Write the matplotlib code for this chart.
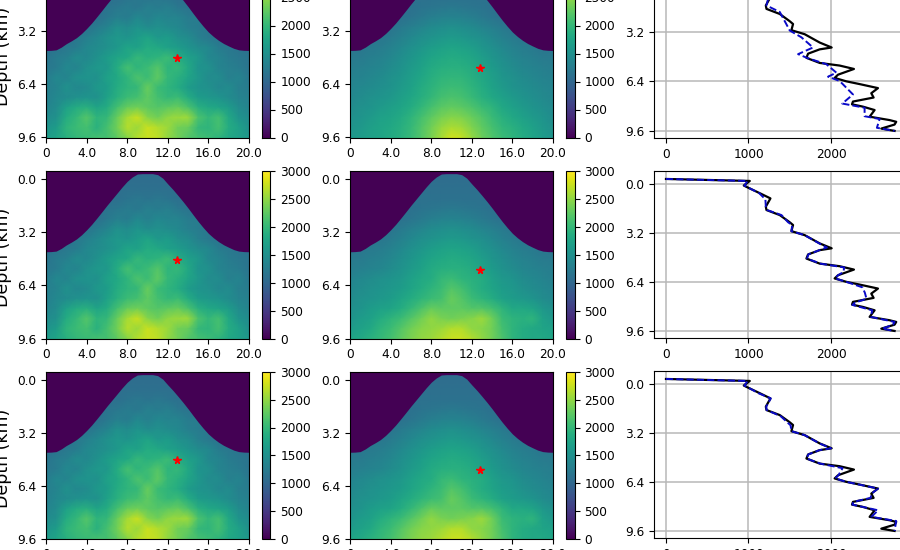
import matplotlib
matplotlib.use('Agg')
import numpy as np
import matplotlib.pyplot as plt

# grid of the velocity maps
x_km = list(range(21))
depth_km = [-0.5, 0.6, 1.2, 1.8, 2.4, 3.0, 3.6, 4.2, 4.8, 5.4, 6.0, 6.6, 7.2, 7.8, 8.4, 9.0, 9.6]

# velocities
left_vel = [
    [1050]*21,
    [1100]*21,
    [1100]*7 + [1100, 1150, 1200, 1150, 1200, 1150, 1100] + [1100]*7,
    [1100]*6 + [1150, 1200, 1250, 1200, 1300, 1250, 1300, 1200, 1150] + [1100]*6,
    [1100]*5 + [1100, 1200, 1300, 1250, 1400, 1300, 1400, 1350, 1350, 1250, 1250] + [1100]*5,
    [1100, 1100, 1100, 1100, 1150, 1250, 1350, 1500, 1450, 1550, 1450, 1500, 1450, 1400, 1300, 1250, 1200, 1150, 1100, 1100, 1100],
    [1050, 1100, 1100, 1200, 1300, 1400, 1500, 1600, 1550, 1650, 1750, 1600, 1650, 1500, 1450, 1300, 1200, 1150, 1100, 1100, 1050],
    [1100, 1150, 1200, 1250, 1400, 1450, 1500, 1600, 1750, 1700, 1850, 1800, 1700, 1650, 1550, 1450, 1400, 1250, 1200, 1150, 1100],
    [1150, 1250, 1300, 1450, 1400, 1500, 1650, 1750, 1800, 2000, 1900, 1950, 2050, 1850, 1700, 1600, 1400, 1350, 1250, 1200, 1150],
    [1200, 1250, 1400, 1350, 1500, 1600, 1600, 1850, 2100, 1950, 2050, 2200, 1950, 2000, 1800, 1550, 1500, 1350, 1300, 1250, 1150],
    [1250, 1400, 1350, 1500, 1550, 1500, 1700, 1800, 1950, 2150, 2050, 2250, 2000, 1900, 1750, 1600, 1450, 1450, 1300, 1350, 1200],
    [1300, 1350, 1500, 1400, 1450, 1600, 1650, 1850, 1950, 2000, 2300, 2050, 1950, 1850, 1650, 1550, 1500, 1400, 1450, 1300, 1250],
    [1300, 1400, 1450, 1500, 1550, 1500, 1700, 1900, 2050, 2100, 2250, 2100, 2000, 2050, 1850, 1650, 1600, 1550, 1450, 1350, 1300],
    [1350, 1450, 1700, 1850, 1900, 1750, 1850, 2100, 2300, 2350, 2250, 2200, 2250, 2300, 2150, 1900, 1800, 1750, 1650, 1450, 1350],
    [1450, 1500, 1850, 2000, 2200, 1950, 2000, 2300, 2600, 2750, 2450, 2350, 2500, 2550, 2550, 2150, 2000, 2100, 1800, 1550, 1450],
    [1550, 1650, 1950, 2050, 2100, 1900, 2100, 2350, 2650, 2550, 2750, 2650, 2550, 2350, 2300, 2000, 1950, 2100, 1850, 1700, 1500],
    [1650, 1750, 1900, 2000, 2050, 2100, 2100, 2250, 2450, 2650, 2750, 2700, 2500, 2350, 2200, 2100, 2050, 1950, 1800, 1700, 1600],
]

# velocities, first row
mid_vel = [
    [1050]*21,
    [1100]*21,
    [1120]*21,
    [1120]*7 + [1150, 1180, 1200, 1230, 1200, 1180, 1150] + [1120]*7,
    [1120]*6 + [1170, 1220, 1280, 1320, 1340, 1320, 1280, 1220, 1170] + [1120]*6,
    [1100, 1100, 1110, 1130, 1170, 1230, 1300, 1370, 1430, 1470, 1500, 1470, 1430, 1370, 1300, 1230, 1170, 1130, 1110, 1100, 1100],
    [1120, 1130, 1150, 1190, 1240, 1310, 1400, 1480, 1540, 1590, 1620, 1600, 1540, 1480, 1400, 1310, 1240, 1190, 1150, 1130, 1120],
    [1170, 1190, 1220, 1260, 1330, 1400, 1490, 1580, 1660, 1720, 1750, 1730, 1670, 1580, 1490, 1400, 1330, 1260, 1220, 1180, 1170],
    [1220, 1240, 1280, 1330, 1390, 1470, 1560, 1660, 1750, 1800, 1830, 1810, 1760, 1670, 1570, 1470, 1390, 1330, 1280, 1240, 1220],
    [1270, 1290, 1340, 1380, 1450, 1530, 1620, 1720, 1820, 1880, 1900, 1890, 1830, 1730, 1630, 1530, 1450, 1380, 1340, 1290, 1270],
    [1320, 1340, 1390, 1430, 1500, 1580, 1670, 1780, 1880, 1950, 1980, 1960, 1890, 1790, 1680, 1580, 1500, 1430, 1390, 1340, 1310],
    [1360, 1400, 1440, 1480, 1540, 1620, 1720, 1830, 1930, 2020, 2060, 2030, 1950, 1840, 1730, 1620, 1540, 1480, 1440, 1390, 1350],
    [1400, 1450, 1500, 1550, 1600, 1680, 1780, 1880, 1990, 2100, 2150, 2120, 2020, 1900, 1800, 1700, 1620, 1550, 1480, 1420, 1380],
    [1450, 1500, 1550, 1620, 1680, 1750, 1850, 1980, 2120, 2230, 2280, 2240, 2160, 2050, 1950, 1800, 1700, 1620, 1550, 1480, 1420],
    [1500, 1550, 1620, 1700, 1750, 1820, 1950, 2100, 2250, 2380, 2450, 2420, 2310, 2180, 2030, 1900, 1800, 1700, 1620, 1550, 1450],
    [1550, 1600, 1680, 1750, 1800, 1880, 2000, 2170, 2350, 2520, 2620, 2570, 2420, 2270, 2110, 1970, 1900, 1800, 1700, 1600, 1500],
    [1600, 1650, 1700, 1750, 1820, 1900, 2020, 2180, 2380, 2600, 2780, 2720, 2520, 2330, 2170, 2050, 1950, 1850, 1750, 1650, 1550],
]

# middle column, lower rows: same top, broader bottom
mid_vel_low = mid_vel[:10] + [
    [1350, 1400, 1450, 1500, 1550, 1600, 1700, 1800, 1850, 2000, 2050, 1950, 1900, 1850, 1700, 1600, 1550, 1450, 1400, 1350, 1300],
    [1400, 1450, 1500, 1550, 1600, 1650, 1750, 1850, 1950, 2050, 2200, 2100, 1950, 1850, 1750, 1650, 1600, 1500, 1450, 1400, 1350],
    [1450, 1500, 1550, 1600, 1650, 1750, 1850, 1950, 2050, 2100, 2300, 2200, 2050, 1950, 1850, 1700, 1650, 1600, 1550, 1450, 1400],
    [1500, 1550, 1650, 1700, 1750, 1850, 2000, 2150, 2300, 2250, 2250, 2250, 2200, 2200, 2100, 1950, 1800, 1800, 1750, 1600, 1500],
    [1550, 1650, 1700, 1850, 1950, 2050, 2200, 2350, 2500, 2400, 2350, 2400, 2450, 2550, 2350, 2050, 1950, 1900, 1950, 1700, 1600],
    [1650, 1700, 1800, 1950, 2050, 2200, 2350, 2450, 2500, 2550, 2650, 2650, 2500, 2450, 2350, 2100, 1950, 1850, 1800, 1750, 1700],
    [1750, 1800, 1900, 2000, 2100, 2250, 2400, 2500, 2550, 2650, 2750, 2750, 2650, 2500, 2350, 2150, 1950, 1850, 1800, 1800, 1750],
]

# top of the hill, one value per 0.5 km
surface_x = [i * 0.5 for i in range(41)]
surface_depth = [4.38, 4.37, 4.34, 4.18, 3.97, 3.8, 3.61, 3.36, 3.06, 2.73, 2.36, 1.98, 1.59, 1.22, 0.85, 0.48,
                 0.14, -0.12, -0.3, -0.32, -0.32, -0.32, -0.26, -0.05, 0.3, 0.63, 0.99, 1.36, 1.75, 2.16, 2.56,
                 2.93, 3.27, 3.54, 3.77, 3.96, 4.11, 4.25, 4.34, 4.37, 4.38]

# star positions (x, depth), one per row
star_left = [(12.9, 4.85), (12.9, 4.85), (12.9, 4.85)]
star_mid = [(12.8, 5.45), (12.8, 5.45), (12.8, 5.45)]

# profiles
true_depth = [-0.33, -0.2, 0.1, 0.24, 0.6, 0.94, 1.48, 1.7, 2.03, 2.5, 2.68, 3.08, 3.34, 3.88, 4.2, 4.32, 4.6, 4.87,
              5.2, 5.37, 5.59, 5.96, 6.17, 6.39, 6.57, 6.83, 7.16, 7.44, 7.7, 7.88, 8.03, 8.25, 8.68, 8.9, 9.01,
              9.19, 9.45, 9.6]
true_vel = [0, 1016, 943, 996, 1137, 1266, 1210, 1218, 1379, 1500, 1540, 1520, 1681, 1863, 2008, 1863, 1722, 1702,
            1863, 2105, 2278, 2085, 2044, 2185, 2347, 2569, 2488, 2516, 2266, 2254, 2387, 2528, 2468, 2710, 2790,
            2770, 2609, 2770]

pred1_depth = [1.04, 1.48, 1.9, 2.9, 3.1, 3.54, 4.2, 4.63, 4.9, 5.28, 5.83, 6.09, 6.37, 7.24, 7.83, 8.1, 8.65, 8.83,
               9.4, 9.6]
pred1_vel = [1238, 1218, 1379, 1480, 1500, 1641, 1782, 1601, 1722, 1943, 2065, 1964, 2105, 2266, 2137, 2407, 2407,
             2589, 2556, 2770]

pred2_depth = [-0.33, -0.2, 0.1, 0.24, 0.6, 1.0, 1.48, 1.7, 2.03, 2.5, 2.68, 3.08, 3.34, 3.95, 4.15, 4.32, 4.6, 4.87,
               5.2, 5.45, 5.75, 5.96, 6.17, 6.39, 6.75, 7.1, 7.5, 7.75, 7.9, 8.25, 8.68, 9.01, 9.19, 9.45, 9.6]
pred2_vel = [0, 990, 950, 1000, 1130, 1205, 1210, 1225, 1400, 1480, 1530, 1520, 1680, 1880, 1950, 1860, 1725, 1710,
             1870, 2160, 2150, 2085, 2050, 2185, 2380, 2410, 2430, 2290, 2260, 2500, 2480, 2770, 2750, 2620, 2770]

pred3_depth = [-0.33, -0.2, 0.1, 0.24, 0.6, 0.94, 1.48, 1.7, 2.1, 2.7, 3.08, 3.34, 3.88, 4.2, 4.32, 4.6, 4.87, 5.2,
               5.5, 5.96, 6.17, 6.39, 6.83, 7.16, 7.44, 7.7, 7.88, 8.25, 8.68, 8.95, 9.6]
pred3_vel = [0, 990, 950, 1000, 1120, 1270, 1215, 1220, 1390, 1510, 1520, 1680, 1860, 2000, 1860, 1725, 1705, 1870,
             2140, 2090, 2050, 2185, 2570, 2490, 2480, 2270, 2260, 2570, 2490, 2790, 2770]

preds = [(pred1_vel, pred1_depth), (pred2_vel, pred2_depth), (pred3_vel, pred3_depth)]
mid_maps = [mid_vel, mid_vel_low, mid_vel_low]

# pixel rows of the panels (top, bottom)
rows_img = [(-30.5, 137.5), (171, 338.5), (372, 538.5)]
rows_line = [(-30.5, 138), (171, 338), (371, 538)]

W, H = 900, 550
plt.rcParams['font.size'] = 8.7


def px_axes(fig, x0, x1, y0, y1):
    return fig.add_axes([x0 / W, 1 - y1 / H, (x1 - x0) / W, (y1 - y0) / H])


def draw_map(fig, vel, star, x0, x1, cx0, cx1, y0, y1):
    ax = px_axes(fig, x0, x1, y0, y1)
    mesh = ax.pcolormesh(x_km, depth_km, np.array(vel), shading='gouraud', cmap='viridis', vmin=0, vmax=3000)
    ax.fill_between(surface_x, -0.6, surface_depth, color=plt.cm.viridis(0), lw=0)
    ax.plot(star[0], star[1], '*', color='red', ms=5.5)
    ax.set_xlim(0, 20)
    ax.set_ylim(9.6, -0.48)
    ax.set_xticks([0, 4, 8, 12, 16, 20])
    ax.set_xticklabels(['0', '4.0', '8.0', '12.0', '16.0', '20.0'])
    ax.set_yticks([0, 3.2, 6.4, 9.6])
    ax.set_yticklabels(['0.0', '3.2', '6.4', '9.6'])
    cax = px_axes(fig, cx0, cx1, y0, y1)
    cb = fig.colorbar(mesh, cax=cax)
    cb.set_ticks([0, 500, 1000, 1500, 2000, 2500, 3000])
    return ax


fig = plt.figure(figsize=(9, 5.5), dpi=100)

for i in range(3):
    y0, y1 = rows_img[i]
    ax = draw_map(fig, left_vel, star_left[i], 46, 249, 262, 270.5, y0, y1)
    fig.text(3 / W, 1 - (y0 + y1) / 2 / H - 0.005, 'Depth (km)', rotation=90, fontsize=12.5, ha='center', va='center')
    draw_map(fig, mid_maps[i], star_mid[i], 350, 553, 566, 574.5, y0, y1)

    y0, y1 = rows_line[i]
    ax = px_axes(fig, 654, 909, y0, y1)
    ax.plot(true_vel, true_depth, color='k', lw=1.6)
    ax.plot(preds[i][0], preds[i][1], '--', color='#0a0ac8', lw=1.4)
    ax.set_xlim(-145, 2945)
    ax.set_ylim(10.06, -0.85)
    ax.set_xticks([0, 1000, 2000])
    ax.set_yticks([0, 3.2, 6.4, 9.6])
    ax.set_yticklabels(['0.0', '3.2', '6.4', '9.6'])
    ax.grid(True, color='#b8b8b8', lw=1.1)
    ax.set_axisbelow(True)

fig.savefig('out.png', dpi=100)
